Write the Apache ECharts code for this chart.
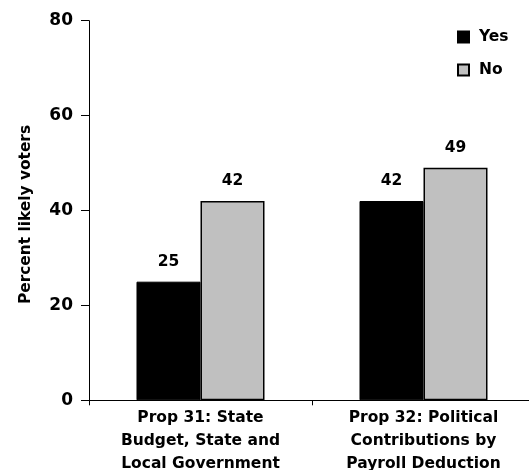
<!DOCTYPE html>
<html>
<head>
<meta charset="utf-8">
<script src="https://cdn.jsdelivr.net/npm/echarts@6/dist/echarts.min.js"></script>
<style>
  html, body { margin: 0; padding: 0; background: #fff; }
  #chart { width: 529px; height: 470px; }
</style>
</head>
<body>
<div id="chart"></div>
<script>
// Ballot measure support among likely voters
const categories = [
  'Prop 31: State\nBudget, State and\nLocal Government',
  'Prop 32: Political\nContributions by\nPayroll Deduction'
];
const yesValues = [25, 42];
const noValues = [42, 49];
const seriesNames = ['Yes', 'No'];
const yTicks = [0, 20, 40, 60, 80];

const FONT = '"DejaVu Sans", "Liberation Sans", Arial, sans-serif';

const chart = echarts.init(document.getElementById('chart'), null, { renderer: 'canvas' });

const labelStyle = {
  show: true,
  position: 'top',
  distance: 12,
  fontFamily: FONT,
  fontWeight: 'bold',
  fontSize: 15.5,
  color: '#000'
};

chart.setOption({
  animation: false,
  backgroundColor: '#fff',
  grid: {
    left: 89, right: -6, top: 20.7, bottom: 69.7,
    containLabel: false,
    outerBoundsMode: 'none'
  },
  legend: {
    data: seriesNames,
    orient: 'vertical',
    left: 452,
    top: 24,
    itemWidth: 11,
    itemHeight: 11,
    itemGap: 17,
    icon: 'rect',
    textStyle: {
      fontFamily: FONT, fontWeight: 'bold', fontSize: 15.5, lineHeight: 16,
      color: '#000', padding: [0, 0, 0, 5]
    }
  },
  xAxis: {
    type: 'category',
    data: categories,
    axisLine: { lineStyle: { color: '#000', width: 1 } },
    axisTick: { show: true, alignWithLabel: false, length: 5, lineStyle: { color: '#000' } },
    axisLabel: {
      interval: 0,
      margin: 6,
      fontFamily: FONT,
      fontWeight: 'bold',
      fontSize: 15.5,
      lineHeight: 23,
      color: '#000'
    }
  },
  yAxis: {
    type: 'value',
    min: yTicks[0],
    max: yTicks[yTicks.length - 1],
    interval: 20,
    name: 'Percent likely voters',
    nameLocation: 'middle',
    nameGap: 56,
    nameTextStyle: {
      fontFamily: FONT, fontWeight: 'bold', fontSize: 15.4, color: '#000',
      padding: [0, 8, 0, 0]
    },
    axisLine: { show: true, lineStyle: { color: '#000', width: 1 } },
    axisTick: { show: true, length: 8, lineStyle: { color: '#000' } },
    splitLine: { show: false },
    axisLabel: {
      margin: 16,
      fontFamily: FONT,
      fontWeight: 'bold',
      fontSize: 17,
      color: '#000'
    }
  },
  series: [
    {
      name: seriesNames[0],
      type: 'bar',
      data: yesValues,
      barGap: '0%',
      barCategoryGap: '42.6%',
      itemStyle: { color: '#000', borderColor: '#000', borderWidth: 1 },
      label: labelStyle
    },
    {
      name: seriesNames[1],
      type: 'bar',
      data: noValues,
      itemStyle: { color: '#c0c0c0', borderColor: '#000', borderWidth: 1.5 },
      label: labelStyle
    }
  ]
});
</script>
</body>
</html>
